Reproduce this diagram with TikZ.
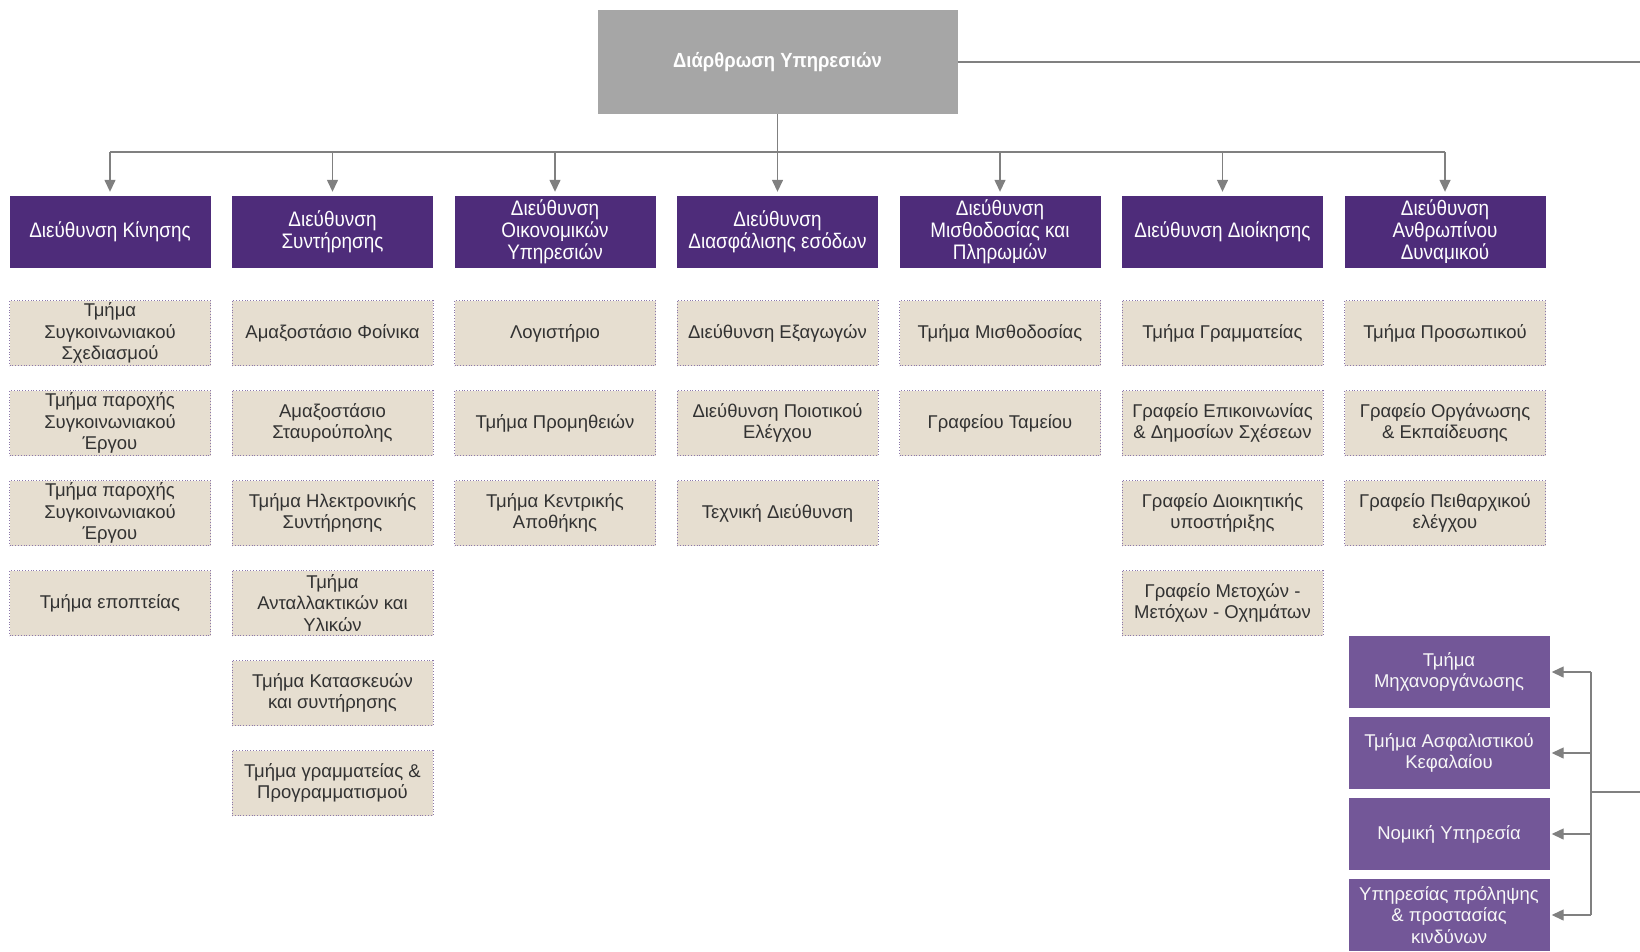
\documentclass[tikz,border=0pt]{standalone}
\usepackage{fontspec}
\setmainfont{Liberation Sans}
\newfontfamily\narrowfont[FakeStretch=0.9]{Liberation Sans}
\usepackage{xcolor}
\usetikzlibrary{arrows.meta}

\definecolor{headgray}{RGB}{166,166,166}
\definecolor{dirpurple}{RGB}{78,44,122}
\definecolor{staffpurple}{RGB}{115,87,152}
\definecolor{subbeige}{RGB}{230,222,208}
\definecolor{subedge}{RGB}{140,120,170}
\definecolor{linegray}{RGB}{128,128,128}
\definecolor{subtext}{RGB}{50,50,50}

\begin{document}
\begin{tikzpicture}[x=1pt,y=-1pt,>={Triangle[width=11pt,length=12pt]},
 conn/.style={draw=linegray,line width=1.4pt},
 headbox/.style={fill=headgray,text=white,minimum width=360pt,minimum height=104pt,
  font=\narrowfont\fontsize{20.5}{22}\selectfont\bfseries},
 dirbox/.style={fill=dirpurple,text=white,minimum width=201pt,minimum height=72pt,
  inner sep=1pt,align=center,font=\narrowfont\fontsize{21}{22}\selectfont},
 subbox/.style={fill=subbeige,draw=subedge,dotted,line width=0.8pt,text=subtext,
  minimum width=201pt,minimum height=65pt,inner sep=1pt,align=center,
  font=\fontsize{18.5}{21.5}\selectfont},
 staffbox/.style={fill=staffpurple,text=white!94!gray,minimum width=201pt,
  minimum height=72pt,inner sep=1pt,align=center,font=\fontsize{18.5}{21.5}\selectfont},
 node distance=90pt]
 \useasboundingbox (0,0) rectangle (1640,951);
 \clip (0,0) rectangle (1640,951);

 \node[headbox] (H) at (777.5,62) {Διάρθρωση Υπηρεσιών};

 \begin{scope}[node distance=222.5pt]
 \node[dirbox] (D1) at (110,232) {Διεύθυνση Κίνησης};
 \node[dirbox,right of=D1] (D2) {Διεύθυνση\\Συντήρησης};
 \node[dirbox,right of=D2] (D3) {Διεύθυνση\\Οικονομικών\\Υπηρεσιών};
 \node[dirbox,right of=D3] (D4) {Διεύθυνση\\Διασφάλισης εσόδων};
 \node[dirbox,right of=D4] (D5) {Διεύθυνση\\Μισθοδοσίας και\\Πληρωμών};
 \node[dirbox,right of=D5] (D6) {Διεύθυνση Διοίκησης};
 \node[dirbox,right of=D6] (D7) {Διεύθυνση\\Ανθρωπίνου\\Δυναμικού};
 \end{scope}

 \begin{scope}[node distance=101pt]
 \node[subbox,below of=D1] (K1) {Τμήμα\\Συγκοινωνιακού\\Σχεδιασμού};
 \node[subbox,below of=D2] (S1) {Αμαξοστάσιο Φοίνικα};
 \node[subbox,below of=D3] (O1) {Λογιστήριο};
 \node[subbox,below of=D4] (E1) {Διεύθυνση Εξαγωγών};
 \node[subbox,below of=D5] (M1) {Τμήμα Μισθοδοσίας};
 \node[subbox,below of=D6] (A1) {Τμήμα Γραμματείας};
 \node[subbox,below of=D7] (P1) {Τμήμα Προσωπικού};
 \end{scope}

 \node[subbox,below of=K1] (K2) {Τμήμα παροχής\\Συγκοινωνιακού\\Έργου};
 \node[subbox,below of=K2] (K3) {Τμήμα παροχής\\Συγκοινωνιακού\\Έργου};
 \node[subbox,below of=K3] (K4) {Τμήμα εποπτείας};

 \node[subbox,below of=S1] (S2) {Αμαξοστάσιο\\Σταυρούπολης};
 \node[subbox,below of=S2] (S3) {Τμήμα Ηλεκτρονικής\\Συντήρησης};
 \node[subbox,below of=S3] (S4) {Τμήμα\\Ανταλλακτικών και\\Υλικών};
 \node[subbox,below of=S4] (S5) {Τμήμα Κατασκευών\\και συντήρησης};
 \node[subbox,below of=S5] (S6) {Τμήμα γραμματείας \&\\Προγραμματισμού};

 \node[subbox,below of=O1] (O2) {Τμήμα Προμηθειών};
 \node[subbox,below of=O2] (O3) {Τμήμα Κεντρικής\\Αποθήκης};

 \node[subbox,below of=E1] (E2) {Διεύθυνση Ποιοτικού\\Ελέγχου};
 \node[subbox,below of=E2] (E3) {Τεχνική Διεύθυνση};

 \node[subbox,below of=M1] (M2) {Γραφείου Ταμείου};

 \node[subbox,below of=A1] (A2) {Γραφείο Επικοινωνίας\\\& Δημοσίων Σχέσεων};
 \node[subbox,below of=A2] (A3) {Γραφείο Διοικητικής\\υποστήριξης};
 \node[subbox,below of=A3] (A4) {Γραφείο Μετοχών -\\Μετόχων - Οχημάτων};

 \node[subbox,below of=P1] (P2) {Γραφείο Οργάνωσης\\\& Εκπαίδευσης};
 \node[subbox,below of=P2] (P3) {Γραφείο Πειθαρχικού\\ελέγχου};

 \begin{scope}[node distance=81pt]
 \node[staffbox] (G1) at (1449,672) {Τμήμα\\Μηχανοργάνωσης};
 \node[staffbox,below of=G1] (G2) {Τμήμα Ασφαλιστικού\\Κεφαλαίου};
 \node[staffbox,below of=G2] (G3) {Νομική Υπηρεσία};
 \node[staffbox,below of=G3] (G4) {Υπηρεσίας πρόληψης\\\& προστασίας\\κινδύνων};
 \end{scope}

 \coordinate (bus) at (777.5,152);
 \coordinate (hr) at (1640,61);
 \coordinate (sb) at (1591,792);
 \coordinate (sr) at (1640,792);

 \draw[conn] (H.east) -- (H.east -| hr);
 \draw[conn] (H.south) -- (bus);
 \draw[conn] (D1.north |- bus) -- (D7.north |- bus);
 \foreach \d in {D1,D2,D3,D4,D5,D6,D7}
  \draw[conn,->,shorten >=4pt] (\d.north |- bus) -- (\d.north);

 \draw[conn] (G1.east -| sb) -- (G4.east -| sb);
 \draw[conn] (sb) -- (sr);
 \foreach \g in {G1,G2,G3,G4}
  \draw[conn,->,shorten >=2pt] (\g.east -| sb) -- (\g.east);
\end{tikzpicture}
\end{document}
